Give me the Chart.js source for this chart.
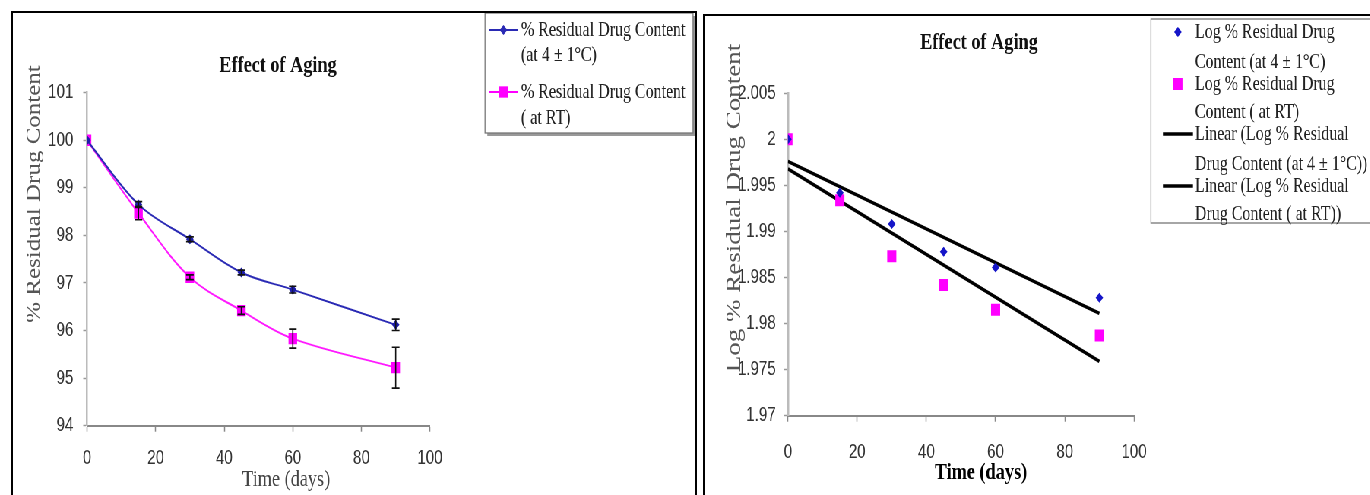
<!DOCTYPE html>
<html>
<head>
<meta charset="utf-8">
<script src="https://cdn.jsdelivr.net/npm/chart.js@4.4.1/dist/chart.umd.min.js"></script>
<style>
html, body { margin: 0; padding: 0; background: #fff; overflow: hidden; }
body { width: 1370px; height: 495px; position: relative; }
/* the source picture is squeezed sideways, so the charts are drawn wide and squeezed back */
#squeeze { position: absolute; left: 0; top: 0; width: 1803px; height: 495px; transform: scaleX(0.76); transform-origin: 0 0; }
#leftWrap { position: absolute; left: 0; top: 0; width: 921px; height: 495px; }
#rightWrap { position: absolute; left: 921px; top: 0; width: 882px; height: 495px; }
.frame { position: absolute; border: 2px solid #000; box-sizing: border-box; pointer-events: none; }
</style>
</head>
<body>
<div id="squeeze">
  <div id="leftWrap"><canvas id="aging"></canvas></div>
  <div id="rightWrap"><canvas id="agingLog"></canvas></div>
</div>
<div class="frame" style="left:11px;top:11px;width:686px;height:530px;"></div>
<div class="frame" style="left:703px;top:14px;width:700px;height:530px;"></div>
<script>
// data
var days = [0, 15, 30, 45, 60, 90];
var residualCold = [100, 98.65, 97.92, 97.22, 96.86, 96.12];
var residualRT = [100, 98.47, 97.12, 96.42, 95.83, 95.22];
var errCold = [0, 0.06, 0.05, 0.05, 0.07, 0.12];
var errRT = [0, 0.14, 0.05, 0.08, 0.2, 0.43];

var logCold = [2.0, 1.9942, 1.9908, 1.9878, 1.9861, 1.9828];
var logRT = [2.0, 1.9934, 1.9873, 1.9842, 1.9815, 1.9787];
var trendDays = [0, 90];
var trendCold = [1.9976, 1.9811];
var trendRT = [1.9968, 1.9759];

var pctRange = [94, 101];
var logRange = [1.97, 2.005];
var dayRange = [0, 100];

var serif = "'Liberation Serif', 'Times New Roman', serif";
var sans = "'Liberation Sans', Arial, sans-serif";

function pts(xs, ys) {
    return xs.map(function (x, i) { return { x: x, y: ys[i] }; });
}

function marker(ctx, style, x, y, r, color) {
    ctx.fillStyle = color;
    ctx.beginPath();
    if (style === 'rectRot') {
        ctx.moveTo(x, y - r); ctx.lineTo(x + r, y); ctx.lineTo(x, y + r); ctx.lineTo(x - r, y);
    } else {
        var s = r * Math.SQRT1_2;
        ctx.rect(x - s, y - s, 2 * s, 2 * s);
    }
    ctx.closePath();
    ctx.fill();
}

// error bars
var errorBars = {
    id: 'errorBars',
    afterDatasetsDraw: function (chart) {
        var ctx = chart.ctx, xs = chart.scales.x, ys = chart.scales.y;
        ctx.save();
        ctx.strokeStyle = '#111';
        ctx.lineWidth = 1.6;
        chart.data.datasets.forEach(function (ds) {
            if (!ds.errors) { return; }
            ds.data.forEach(function (p, i) {
                var e = ds.errors[i];
                if (!e) { return; }
                var px = xs.getPixelForValue(p.x);
                var top = ys.getPixelForValue(p.y + e), bot = ys.getPixelForValue(p.y - e);
                ctx.beginPath();
                ctx.moveTo(px, top); ctx.lineTo(px, bot);
                ctx.moveTo(px - 5, top); ctx.lineTo(px + 5, top);
                ctx.moveTo(px - 5, bot); ctx.lineTo(px + 5, bot);
                ctx.stroke();
            });
        });
        ctx.restore();
    }
};

// titles and legend box
var decor = {
    id: 'decor',
    afterDraw: function (chart, args, o) {
        var ctx = chart.ctx;
        ctx.save();
        ctx.textBaseline = 'middle';
        ctx.textAlign = 'center';

        ctx.fillStyle = '#111';
        ctx.font = 'bold 24px ' + serif;
        ctx.fillText('Effect of Aging', o.title[0], o.title[1]);

        ctx.fillStyle = o.xTitle[3];
        ctx.font = o.xTitle[2] + serif;
        ctx.fillText('Time (days)', o.xTitle[0], o.xTitle[1]);

        ctx.save();
        ctx.translate(o.yTitle[0], o.yTitle[1]);
        ctx.rotate(-Math.PI / 2);
        ctx.fillStyle = '#555';
        ctx.font = o.yTitle[2] + 'px ' + serif;
        ctx.fillText(o.yTitle[3], 0, 0);
        ctx.restore();

        var b = o.legend.box;
        if (o.legend.shadow) {
            ctx.fillStyle = '#999';
            ctx.fillRect(b[0] + 3, b[1] + 3, b[2], b[3]);
        }
        ctx.fillStyle = '#fff';
        ctx.fillRect(b[0], b[1], b[2], b[3]);
        ctx.strokeStyle = '#777';
        ctx.lineWidth = 1.3;
        ctx.strokeRect(b[0], b[1], b[2], b[3]);

        ctx.textAlign = 'left';
        ctx.font = '21px ' + serif;
        o.legend.items.forEach(function (it) {
            if (it.line) {
                ctx.strokeStyle = it.color;
                ctx.lineWidth = it.lw;
                ctx.beginPath();
                ctx.moveTo(it.line[0], it.y); ctx.lineTo(it.line[1], it.y);
                ctx.stroke();
            }
            if (it.marker) {
                marker(ctx, it.marker, it.mx, it.y, it.r, it.color);
            }
            ctx.fillStyle = '#222';
            ctx.fillText(it.text, o.legend.textX, it.y);
        });
        ctx.restore();
    }
};

function axes(yMin, yMax, yStep, yPad, yWidth, xHeight, xPad) {
    var tickFont = { family: sans, size: 20 };
    return {
        x: {
            type: 'linear', min: dayRange[0], max: dayRange[1],
            ticks: { stepSize: 20, color: '#333', font: tickFont, padding: xPad },
            grid: { drawOnChartArea: false, tickLength: 6, tickColor: '#888', tickWidth: 1.5 },
            border: { color: '#888', width: 2 },
            afterFit: function (s) { s.height = xHeight; }
        },
        y: {
            min: yMin, max: yMax,
            ticks: {
                stepSize: yStep, color: '#333', font: tickFont, padding: yPad,
                callback: function (v) { return String(+v.toFixed(3)); }
            },
            grid: { drawOnChartArea: false, tickLength: 5, tickColor: '#999', tickWidth: 1.5 },
            border: { color: '#bbb', width: 2.5 },
            afterFit: function (s) { s.width = yWidth; }
        }
    };
}

Chart.defaults.animation = false;

new Chart(document.getElementById('aging'), {
    type: 'line',
    data: {
        datasets: [{
            label: '% Residual Drug Content (at 4 ± 1°C)',
            data: pts(days, residualCold),
            errors: errCold,
            borderColor: '#2a2ab4', backgroundColor: '#1c1ca8',
            borderWidth: 2, tension: 0.35,
            pointStyle: 'rectRot', pointRadius: 5, pointBorderWidth: 0
        }, {
            label: '% Residual Drug Content ( at RT)',
            data: pts(days, residualRT),
            errors: errRT,
            borderColor: '#ff1aff', backgroundColor: '#ff00ff',
            borderWidth: 2, tension: 0.35,
            pointStyle: 'rect', pointRadius: 8, pointBorderWidth: 0
        }]
    },
    options: {
        responsive: true, maintainAspectRatio: false,
        layout: { padding: { left: 0, top: 92.7, right: 355.2, bottom: 0 } },
        scales: axes(pctRange[0], pctRange[1], 1, 13, 114.5, 69.3, 15),
        plugins: {
            legend: { display: false }, tooltip: { enabled: false },
            decor: {
                title: [365.8, 66],
                xTitle: [376.5, 480, '24px ', '#444'],
                yTitle: [45.4, 194, 25, '% Residual Drug Content'],
                legend: {
                    box: [638.2, 13, 273.7, 120], shadow: true, textX: 685.5,
                    items: [
                        { y: 30, line: [643.4, 681.6], lw: 2, color: '#2a2ab4', marker: 'rectRot', mx: 662.5, r: 5, text: '% Residual Drug Content' },
                        { y: 55, text: '(at 4 ± 1°C)' },
                        { y: 92, line: [643.4, 681.6], lw: 2, color: '#ff00ff', marker: 'rect', mx: 662.5, r: 8, text: '% Residual Drug Content' },
                        { y: 118, text: '( at RT)' }
                    ]
                }
            }
        }
    },
    plugins: [errorBars, decor]
});

new Chart(document.getElementById('agingLog'), {
    type: 'scatter',
    data: {
        datasets: [{
            label: 'Log % Residual Drug Content (at 4 ± 1°C)',
            data: pts(days, logCold), order: 0,
            backgroundColor: '#1515c8', pointStyle: 'rectRot', pointRadius: 5, pointBorderWidth: 0
        }, {
            label: 'Log % Residual Drug Content ( at RT)',
            data: pts(days, logRT), order: 0,
            backgroundColor: '#ff00ff', pointStyle: 'rect', pointRadius: 8.5, pointBorderWidth: 0
        }, {
            label: 'Linear (Log % Residual Drug Content (at 4 ± 1°C))',
            data: pts(trendDays, trendCold), order: 1,
            showLine: true, borderColor: '#000', borderWidth: 3.5, pointRadius: 0
        }, {
            label: 'Linear (Log % Residual Drug Content ( at RT))',
            data: pts(trendDays, trendRT), order: 1,
            showLine: true, borderColor: '#000', borderWidth: 3.5, pointRadius: 0
        }]
    },
    options: {
        responsive: true, maintainAspectRatio: false,
        layout: { padding: { left: 0, top: 93.3, right: 310.9, bottom: 0 } },
        scales: axes(logRange[0], logRange[1], 0.005, 11, 115.8, 79.3, 19),
        plugins: {
            legend: { display: false }, tooltip: { enabled: false },
            decor: {
                title: [367.1, 43],
                xTitle: [369.7, 473, 'bold 24px ', '#000'],
                yTitle: [46, 208, 27, 'Log % Residual Drug Content'],
                legend: {
                    box: [593.4, 19, 300, 204], shadow: false, textX: 651.3,
                    items: [
                        { y: 32, marker: 'rectRot', mx: 628.9, r: 5, color: '#1515c8', text: 'Log % Residual Drug' },
                        { y: 62, text: 'Content (at 4 ± 1°C)' },
                        { y: 84, marker: 'rect', mx: 628.9, r: 8.5, color: '#ff00ff', text: 'Log % Residual Drug' },
                        { y: 112, text: 'Content ( at RT)' },
                        { y: 134, line: [609.2, 648.7], lw: 3.5, color: '#000', text: 'Linear (Log % Residual' },
                        { y: 164, text: 'Drug Content (at 4 ± 1°C))' },
                        { y: 186, line: [609.2, 648.7], lw: 3.5, color: '#000', text: 'Linear (Log % Residual' },
                        { y: 214, text: 'Drug Content ( at RT))' }
                    ]
                }
            }
        }
    },
    plugins: [decor]
});
</script>
</body>
</html>
